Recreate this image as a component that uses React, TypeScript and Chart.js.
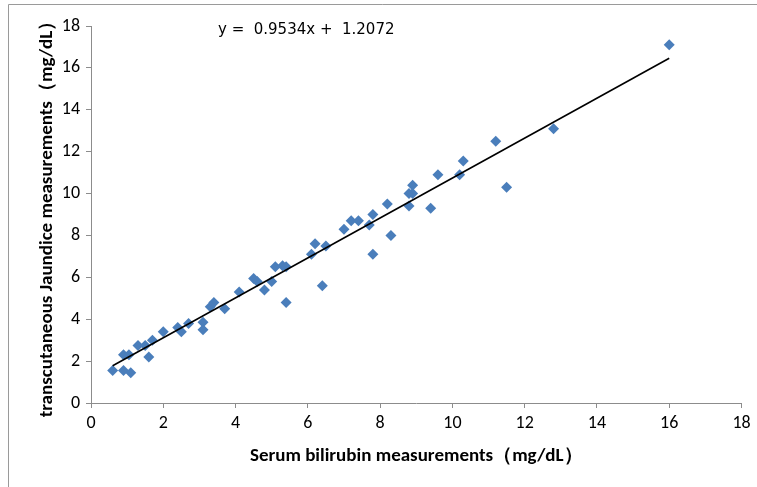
import React, { useEffect, useRef } from "react";
import { Chart, registerables } from "chart.js";

Chart.register(...registerables);

// Serum bilirubin (x) vs transcutaneous jaundice (y), mg/dL
const serumValues = [
  0.6, 0.9, 1.05, 0.9, 1.1, 1.3, 1.5, 1.6, 1.7, 2.0, 2.4, 2.5, 2.7, 3.1, 3.1,
  3.3, 3.4, 3.7, 4.1, 4.5, 4.6, 4.8, 5.0, 5.1, 5.3, 5.4, 5.4, 6.1, 6.2, 6.5,
  6.4, 7.0, 7.2, 7.4, 7.7, 7.8, 7.8, 8.2, 8.3, 8.8, 8.8, 8.9, 8.9, 9.4, 9.6,
  10.2, 10.3, 11.2, 11.5, 12.8, 16.0,
];
const tcbValues = [
  1.55, 2.3, 2.3, 1.55, 1.45, 2.75, 2.75, 2.2, 3.0, 3.4, 3.6, 3.4, 3.8, 3.85,
  3.5, 4.6, 4.8, 4.5, 5.3, 5.95, 5.8, 5.4, 5.8, 6.5, 6.55, 6.5, 4.8, 7.1, 7.6,
  7.5, 5.6, 8.3, 8.7, 8.7, 8.5, 9.0, 7.1, 9.5, 8.0, 9.4, 10.0, 10.4, 10.0, 9.3,
  10.9, 10.9, 11.55, 12.5, 10.3, 13.1, 17.1,
];
const slope = 0.9534;
const intercept = 1.2072;
const equationLabel = "y =  0.9534x +  1.2072";
const xTitle = "Serum bilirubin measurements（mg/dL）";
const yTitle = "transcutaneous Jaundice measurements（mg/dL）";
const axisMin = 0;
const axisMax = 18;
const axisStep = 2;

const FONT = "Carlito, 'Liberation Sans Narrow', 'Open Sans', sans-serif";
const GRAY = "#8c8c8c";

export default function App() {
  const ref = useRef<HTMLCanvasElement | null>(null);

  useEffect(() => {
    if (!ref.current) return;
    const points = serumValues.map((x, i) => ({ x, y: tcbValues[i] }));
    const xLo = Math.min(...serumValues);
    const xHi = Math.max(...serumValues);
    const trend = [
      { x: xLo, y: slope * xLo + intercept },
      { x: xHi, y: slope * xHi + intercept },
    ];

    const framePlugin = {
      id: "frame",
      beforeDraw(chart: any) {
        const ctx = chart.ctx;
        ctx.save();
        ctx.fillStyle = "#ffffff";
        ctx.fillRect(0, 0, chart.width, chart.height);
        ctx.strokeStyle = "#9a9a9a";
        ctx.lineWidth = 1;
        ctx.beginPath();
        ctx.moveTo(8.5, chart.height);
        ctx.lineTo(8.5, 4.5);
        ctx.lineTo(chart.width, 4.5);
        ctx.stroke();
        ctx.restore();
      },
      afterDraw(chart: any) {
        const ctx = chart.ctx;
        const area = chart.chartArea;
        ctx.save();
        ctx.fillStyle = "#000000";
        ctx.font = "15px 'DejaVu Sans', sans-serif";
        ctx.textBaseline = "middle";
        ctx.textAlign = "left";
        ctx.fillText(equationLabel, area.left + 127, area.top + 4);
        ctx.restore();
      },
    };

    const chart = new Chart(ref.current, {
      type: "scatter",
      data: {
        datasets: [
          {
            label: "data",
            data: points,
            pointStyle: "rectRot",
            pointRadius: 5.5,
            pointBackgroundColor: "#4a7ebb",
            pointBorderColor: "#4a7ebb",
            pointBorderWidth: 0,
            showLine: false,
            order: 2,
          },
          {
            label: "trend",
            data: trend,
            showLine: true,
            borderColor: "#000000",
            borderWidth: 1.6,
            pointRadius: 0,
            order: 1,
          },
        ],
      },
      plugins: [framePlugin],
      options: {
        responsive: false,
        animation: false,
        devicePixelRatio: 1,
        layout: { padding: { left: 0, top: 26, right: 15.5, bottom: 0 } },
        plugins: {
          legend: { display: false },
          tooltip: { enabled: false },
        },
        scales: {
          x: {
            type: "linear",
            min: axisMin,
            max: axisMax,
            afterFit: (s: any) => {
              s.height = 84;
            },
            ticks: {
              stepSize: axisStep,
              color: "#000000",
              padding: 5,
              font: { family: FONT, size: 18 },
            },
            grid: {
              display: true,
              drawOnChartArea: false,
              drawTicks: true,
              tickLength: 5,
              color: GRAY,
            },
            border: { display: true, color: GRAY, width: 1 },
            title: {
              display: true,
              text: xTitle,
              color: "#000000",
              font: { family: FONT, size: 19, weight: "bold" },
              padding: { top: 0, bottom: 19.5 },
            },
          },
          y: {
            type: "linear",
            min: axisMin,
            max: axisMax,
            afterFit: (s: any) => {
              s.width = 91;
            },
            ticks: {
              stepSize: axisStep,
              color: "#000000",
              padding: 6,
              font: { family: FONT, size: 18 },
            },
            grid: {
              display: true,
              drawOnChartArea: false,
              drawTicks: true,
              tickLength: 5,
              color: GRAY,
            },
            border: { display: true, color: GRAY, width: 1 },
            title: {
              display: true,
              text: yTitle,
              color: "#000000",
              font: { family: FONT, size: 19, weight: "bold" },
              padding: { top: 35.5, bottom: 0 },
            },
          },
        },
      },
    });
    return () => chart.destroy();
  }, []);

  return (
    <div style={{ position: "fixed", left: 0, top: 0, width: 757, height: 487 }}>
      <canvas ref={ref} width={757} height={487} style={{ display: "block" }} />
    </div>
  );
}
